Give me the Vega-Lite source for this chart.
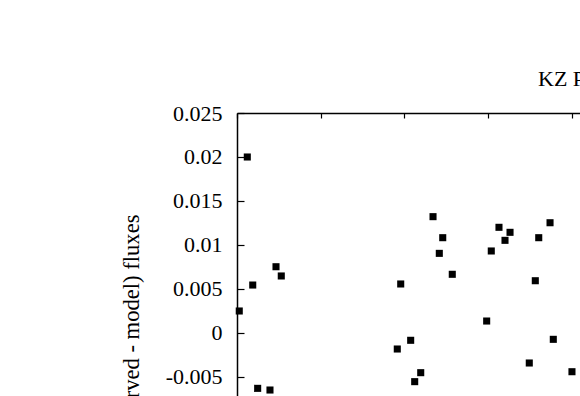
{
  "$schema": "https://vega.github.io/schema/vega-lite/v6.json",
  "autosize": {"type": "none"},
  "padding": {"left": 237, "top": 113, "right": 0, "bottom": 0},
  "width": 343,
  "height": 283,
  "background": "white",
  "config": {"view": {"stroke": null}, "font": "Liberation Serif"},
  "title": {"text": "KZ P", "anchor": "start", "frame": "group", "dx": 301, "dy": 32, "offset": 26, "baseline": "alphabetic", "fontSize": 22, "fontWeight": "normal", "font": "Liberation Serif", "color": "black"},
  "data": {"values": [
    {"phase": 0.0123, "residual": 0.0200},
    {"phase": 0.0188, "residual": 0.00545},
    {"phase": 0.0027, "residual": 0.0025},
    {"phase": 0.0466, "residual": 0.00753},
    {"phase": 0.0529, "residual": 0.00648},
    {"phase": 0.0247, "residual": -0.00629},
    {"phase": 0.0394, "residual": -0.00648},
    {"phase": 0.2342, "residual": 0.01322},
    {"phase": 0.2458, "residual": 0.01083},
    {"phase": 0.2417, "residual": 0.00905},
    {"phase": 0.2572, "residual": 0.00667},
    {"phase": 0.1956, "residual": 0.00557},
    {"phase": 0.1915, "residual": -0.00182},
    {"phase": 0.2075, "residual": -0.00083},
    {"phase": 0.2123, "residual": -0.00553},
    {"phase": 0.2195, "residual": -0.00451},
    {"phase": 0.2983, "residual": 0.00136},
    {"phase": 0.3038, "residual": 0.00932},
    {"phase": 0.3130, "residual": 0.01201},
    {"phase": 0.3202, "residual": 0.01053},
    {"phase": 0.3262, "residual": 0.01144},
    {"phase": 0.3605, "residual": 0.01083},
    {"phase": 0.3740, "residual": 0.01253},
    {"phase": 0.3564, "residual": 0.00594},
    {"phase": 0.3779, "residual": -0.00072},
    {"phase": 0.3492, "residual": -0.00341},
    {"phase": 0.4002, "residual": -0.0044}
  ]},
  "mark": {"type": "point", "shape": "square", "filled": true, "color": "black", "size": 50, "opacity": 1, "clip": false},
  "encoding": {
    "x": {"field": "phase", "type": "quantitative",
      "scale": {"domain": [0, 0.4098], "nice": false, "zero": false},
      "axis": {"orient": "top", "values": [0, 0.1, 0.2, 0.3, 0.4], "labels": false, "tickSize": -5, "domainColor": "black", "tickColor": "black", "domainWidth": 1.5, "tickWidth": 1.2, "grid": false, "title": null}},
    "y": {"field": "residual", "type": "quantitative",
      "scale": {"domain": [-0.00716, 0.025], "nice": false, "zero": false},
      "axis": {"values": [-0.005, 0, 0.005, 0.01, 0.015, 0.02, 0.025], "labelExpr": "'' + datum.value", "tickSize": -7, "labelPadding": 22, "labelFontSize": 22, "labelFont": "Liberation Serif", "labelColor": "black", "domainColor": "black", "tickColor": "black", "domainWidth": 1.5, "tickWidth": 1.2, "grid": false,
        "title": "(observed - model) fluxes", "titleFont": "Liberation Serif", "titleFontSize": 22.6, "titleFontWeight": "normal", "titleColor": "black", "titleAlign": "right", "titleAngle": -90, "titleBaseline": "alphabetic", "titleX": -99, "titleY": 101}}
  }
}
